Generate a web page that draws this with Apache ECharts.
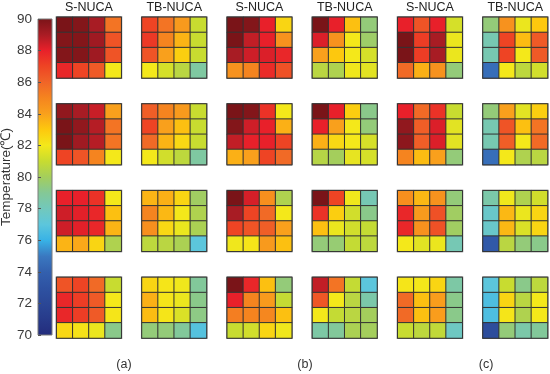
<!DOCTYPE html>
<html><head><meta charset="utf-8">
<script src="https://cdn.jsdelivr.net/npm/echarts@6/dist/echarts.min.js"></script>
<style>html,body{margin:0;padding:0;background:#fff}#c{width:550px;height:374px}</style>
</head><body><div id="c"></div><script>
const colTitles = ['S-NUCA','TB-NUCA','S-NUCA','TB-NUCA','S-NUCA','TB-NUCA'];
const groupLabels = ['(a)','(b)','(c)'];
const cbMin = 70, cbMax = 90, cbStep = 2;
const cbName = 'Temperature(℃)';
const cmap = ['#232c7c','#273a8a','#2b4796','#2e52a2','#3360ae','#3a78c0','#38b2e6','#5cc6dc','#72c8bc','#84c896',
              '#a4ce5c','#c8dc30','#f4e81a','#fdc80e','#f9a01c','#f5841f','#f06428','#ee4424','#e8202a','#a81c24','#7a1418'];

const colA_S = [
 [[90,89.8,89,85.5],[89.8,89.8,89.2,86.5],[89.8,89.8,89.2,86.5],[87.8,87,86.3,82]],
 [[89.5,89,88.5,84],[90,89.5,88.8,85.5],[90,89.2,88.8,85.5],[87,86.5,85,82]],
 [[88,88,87.5,82],[88.4,88.1,87.8,83.2],[88.4,88.1,87.8,83.5],[83.5,83.8,82.6,80.3]],
 [[86.5,87,85.8,81],[87.8,87.2,86.3,82],[87.8,87.2,86.3,82.1],[82.5,82.2,81.8,79.2]]
];
const colA_TB = [
 [[87,85.5,84.2,81],[87.3,85,83.5,81],[86.5,84,82.8,81],[82,81.3,80.6,78.7]],
 [[86.2,85,84.2,81],[87,84,83.2,81],[85.8,83.5,82.5,81],[82,81.2,80.7,78.7]],
 [[83.5,83.6,82.6,79.9],[85,83.4,82,80.3],[84.6,82.5,81.8,80.2],[80.7,80.6,80.2,77]],
 [[82.6,82.1,81.9,78.9],[83.6,82.1,81.8,79.2],[83.3,82.1,81.4,79.3],[79.5,79.5,78.9,76.8]]
];
const colB_S = [
 [[90,89.8,88,82.6],[90,88.6,88,84.5],[89,88.4,88.2,87.8],[84.5,85,87.7,86.6]],
 [[90,89.8,87.5,82],[89.8,88.4,88,83.6],[88.6,88,88,87],[83.6,84,87,85.8]],
 [[90,88.3,84.6,80.3],[89,87,85.8,82],[87,86.5,86.2,84],[81.9,82.1,84.2,83.2]],
 [[90,87.8,83.2,79.5],[88,85,84.2,80.9],[85.2,85,84.9,83.2],[81,81.2,82.6,81.9]]
];
const colB_TB = [
 [[90,88,83.2,79.5],[88.2,84.5,82,79.8],[84,83,82,81.3],[80.6,80.3,81.9,81.6]],
 [[90,88,82.8,79.2],[88,84,82,79.5],[83.6,82.5,82,81.3],[80.5,80,81.7,81.3]],
 [[90,87,81.9,78.2],[87.5,82.8,81.2,79.2],[83.2,81.8,81.2,80.9],[79.5,79.6,80.9,80.7]],
 [[88.6,85.5,80.9,77],[86.4,82,80.6,78.5],[82,80.9,80.6,80],[78.6,78.9,80.2,80]]
];
const colC_S = [
 [[88,86.5,88,81.3],[90,87.2,89,81.8],[90,87.2,89,81.8],[85.8,83.6,84.5,79.5]],
 [[88,85.8,87.5,81],[89.5,86.2,88.2,81.6],[89.6,86.2,88.2,81.6],[85,83.3,84,79.5]],
 [[84.6,83.4,84.5,79.5],[87.8,84.2,86.6,79.9],[87.8,84.5,86.6,79.9],[82,81.6,81.8,78.2]],
 [[82.1,82,82.6,78.6],[85.8,83.2,84.1,79.2],[85.8,83.2,84.1,79.2],[81,80.7,80.8,77.8]]
];
const colC_TB = [
 [[79.5,84.5,81.8,83],[78.3,87,83.3,86.3],[78.3,87,82,86.3],[74.6,82,80.7,81.2]],
 [[79.5,84,81.6,82.8],[78.3,86.5,83.2,85.5],[78.3,86.2,82,85.8],[74.6,82,80.3,80.6]],
 [[78.5,81.9,80.3,81.2],[77.6,83.4,81.8,82.6],[77.6,83.4,81.4,82.6],[73.5,80.6,79.5,79.2]],
 [[77,81,79.2,80.7],[76.6,82.6,80.6,82],[76.6,82.1,80.3,82],[72.5,79.5,78.5,78.9]]
];
const columns = [colA_S, colA_TB, colB_S, colB_TB, colC_S, colC_TB];

const FONT = '"Liberation Sans", Arial, Helvetica, sans-serif';
const L0 = 56.7, DX = 85.26, W = 64.5, T0 = 17.3, DY = 86.7, H = 60.6;

const grids = [], xAxes = [], yAxes = [], series = [], hmIdx = [];
// colorbar
grids.push({left: 38, top: 19, width: 14, height: 316, show: false, outerBoundsMode: 'none', containLabel: false});
xAxes.push({type: 'value', gridIndex: 0, min: 0, max: 1, show: false});
yAxes.push({type: 'value', gridIndex: 0, min: cbMin, max: cbMax, interval: cbStep, z: 5,
  name: cbName, nameLocation: 'middle', nameGap: 23, nameRotate: 90,
  nameTextStyle: {fontSize: 13.5, color: '#333', fontFamily: FONT},
  axisLine: {show: false},
  axisTick: {show: true, inside: true, length: 3, lineStyle: {color: '#555', width: 1}},
  axisLabel: {fontSize: 13.5, color: '#3a3a3a', margin: 6, fontFamily: FONT},
  splitLine: {show: false}});
series.push({type: 'custom', xAxisIndex: 0, yAxisIndex: 0, data: [[0, cbMin]], silent: true, z: 2,
  renderItem: function (params, api) {
    const p0 = api.coord([0, cbMax]);
    const p1 = api.coord([1, cbMin]);
    const stops = cmap.map((c, i) => ({offset: 1 - i / (cmap.length - 1), color: c})).reverse();
    return {type: 'rect', shape: {x: p0[0], y: p0[1], width: p1[0] - p0[0], height: p1[1] - p0[1]},
      style: {fill: new echarts.graphic.LinearGradient(0, 0, 0, 1, stops), stroke: '#7a7a7a', lineWidth: 1}};
  }});

columns.forEach((col, c) => {
  col.forEach((mat, r) => {
    const gi = grids.length;
    grids.push({left: L0 + c * DX, top: T0 + r * DY, width: W, height: H, show: true,
      outerBoundsMode: 'none', containLabel: false,
      borderColor: '#707070', borderWidth: 2, backgroundColor: 'transparent'});
    xAxes.push({type: 'category', gridIndex: gi, data: ['0','1','2','3'], show: false});
    yAxes.push({type: 'category', gridIndex: gi, data: ['0','1','2','3'], inverse: true, show: false});
    const data = [];
    mat.forEach((row, ri) => row.forEach((v, ci) => data.push([ci, ri, v])));
    hmIdx.push(series.length);
    series.push({type: 'heatmap', xAxisIndex: gi, yAxisIndex: gi, data: data, silent: true,
      itemStyle: {borderColor: '#333', borderWidth: 1}, emphasis: {disabled: true}});
  });
});

const graphic = [];
colTitles.forEach((t, c) => {
  graphic.push({type: 'text', x: L0 + c * DX + W / 2, y: 7.5,
    style: {text: t, align: 'center', verticalAlign: 'middle', font: '12.5px ' + FONT, fill: '#222'}});
});
const glx = [124, 305, 486];
groupLabels.forEach((t, i) => {
  graphic.push({type: 'text', x: glx[i], y: 365,
    style: {text: t, align: 'center', verticalAlign: 'middle', font: '12.5px ' + FONT, fill: '#333'}});
});

const chart = echarts.init(document.getElementById('c'), null, {renderer: 'canvas'});
chart.setOption({
  animation: false,
  backgroundColor: '#fff',
  grid: grids, xAxis: xAxes, yAxis: yAxes, series: series,
  visualMap: {show: false, type: 'continuous', min: cbMin, max: cbMax, dimension: 2,
    seriesIndex: hmIdx, inRange: {color: cmap}},
  graphic: graphic
});
</script></body></html>
